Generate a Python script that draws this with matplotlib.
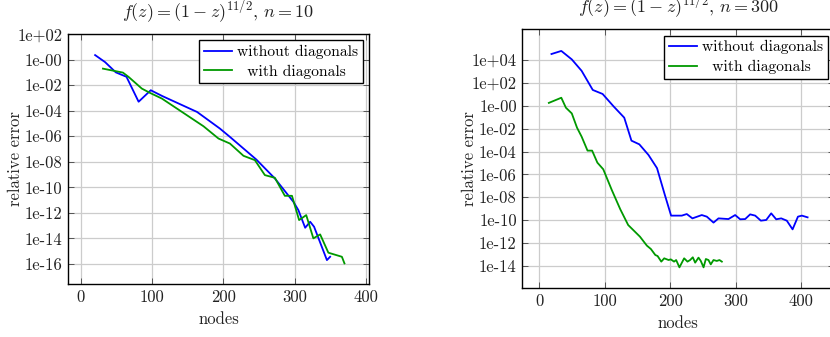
import matplotlib
matplotlib.use("Agg")
from matplotlib import pyplot as plt
import numpy as np

plt.rcParams['font.family'] = ['cmr10', 'DejaVu Serif']
plt.rcParams['mathtext.fontset'] = 'cm'
plt.rcParams['axes.unicode_minus'] = False
plt.rcParams['axes.formatter.use_mathtext'] = True
fontsize = 12
plt.rcParams['font.size'] = fontsize

# ---- left panel: n = 10 (values are log10 of the relative error)
nodes_l_wo = [20, 34, 49, 64, 81, 98, 114, 163, 195, 209, 246, 272, 298, 305, 314.5, 321.5, 327, 345, 349.5]
log_l_wo = [0.35, -0.2, -1.0, -1.35, -3.3, -2.4, -2.85, -4.1, -5.4, -6.05, -7.82, -9.3, -11.13, -11.78, -13.16, -12.69, -13.08, -15.69, -15.43]

nodes_l_w = [31, 59, 67, 85.5, 97, 113.6, 172, 193, 209, 228, 244, 258, 272, 286, 296, 306, 316, 326, 335.5, 347, 366, 369.6]
log_l_w = [-0.71, -1.02, -1.36, -2.27, -2.61, -3.05, -5.22, -6.18, -6.57, -7.53, -7.87, -9.04, -9.25, -10.66, -10.66, -12.56, -12.17, -13.99, -13.68, -15.11, -15.43, -15.95]

# ---- right panel: n = 300
nodes_r_wo = [19, 34, 50, 65, 82, 97, 114, 130, 141, 153, 167, 180, 192, 201.5, 217.8, 225.4, 234, 248.3, 256,
              266.2, 273.8, 289, 299.2, 306.9, 314.5, 322.1, 329.8, 338.4, 346.6, 354.2, 361.8, 369.5, 378,
              386.8, 395, 401, 409.7]
log_r_wo = [4.52, 4.79, 4.05, 3.05, 1.38, 1.03, -0.07, -1.04, -3.05, -3.37, -4.3, -5.45, -7.8, -9.6, -9.6, -9.46, -9.84,
            -9.55, -9.69, -10.21, -9.84, -9.9, -9.55, -9.92, -9.9, -9.49, -9.6, -10.04, -9.98, -9.40, -9.92, -9.84,
            -10.04, -10.8, -9.69, -9.6, -9.75]

nodes_r_w = [15, 34, 41, 50, 58, 65, 74, 81, 89, 98, 111, 124, 136, 154, 164.5, 170.7, 177.4, 180.9, 186.5, 191,
             197.7, 201, 206, 209.2, 214.2, 221.4, 226.5, 230.5, 234.6, 238.2, 243.3, 246.8, 251, 254.5, 258.5,
             262, 266.2, 271.2, 275.3, 278.9]
log_r_w = [0.25, 0.7, -0.17, -0.67, -1.92, -2.7, -3.92, -3.92, -4.97, -5.55, -7.36, -9.05, -10.42, -11.44, -12.22,
           -12.52, -13.04, -13.13, -13.62, -13.33, -13.48, -13.42, -13.62, -13.48, -14.12, -13.33, -13.62, -13.48,
           -13.24, -13.71, -13.27, -13.56, -14.12, -13.39, -13.48, -13.86, -13.48, -13.56, -13.48, -13.62]

x_ticks = [0, 100, 200, 300, 400]
y_ticks_l = [2, 0, -2, -4, -6, -8, -10, -12, -14, -16]
y_ticks_r = [4, 2, 0, -2, -4, -6, -8, -10, -12, -14]
names = ["without diagonals", "  with diagonals"]
colors = ["#0000ff", "#009900"]


def tick_label(e):
    if e > 0:
        return "1e+%02d" % e
    return "1e-%02d" % abs(e)


W, H = 830.0, 337.0
fig = plt.figure(figsize=(8.3, 3.37), dpi=100)
# axes boxes in pixels: left, top, right, bottom ; title centre height
box_l = (68, 34, 369, 284)
box_r = (522.3, 29.3, 834, 288.3)
ax_l = fig.add_axes([box_l[0] / W, 1 - box_l[3] / H, (box_l[2] - box_l[0]) / W, (box_l[3] - box_l[1]) / H])
ax_r = fig.add_axes([box_r[0] / W, 1 - box_r[3] / H, (box_r[2] - box_r[0]) / W, (box_r[3] - box_r[1]) / H])

panels = [
    (ax_l, box_l, 12.0, nodes_l_wo, log_l_wo, nodes_l_w, log_l_w, y_ticks_l, (-18, 404), (-17.56, 2.0), "10"),
    (ax_r, box_r, 7.5, nodes_r_wo, log_r_wo, nodes_r_w, log_r_w, y_ticks_r, (-25.5, 450), (-15.95, 6.68), "300"),
]

for ax, box, ty, xa, ya, xb, yb, yt, xl, yl, n in panels:
    ax.plot(xa, 10.0 ** np.array(ya), color=colors[0], linewidth=1.3, label=names[0])
    ax.plot(xb, 10.0 ** np.array(yb), color=colors[1], linewidth=1.3, label=names[1])
    ax.set_yscale('log')
    ax.set_xlim(*xl)
    ax.set_ylim(10.0 ** yl[0], 10.0 ** yl[1])
    ax.set_xticks(x_ticks)
    ax.set_xticklabels([str(t) for t in x_ticks])
    ax.set_yticks([10.0 ** e for e in yt])
    ax.set_yticklabels([tick_label(e) for e in yt])
    ax.yaxis.set_minor_locator(matplotlib.ticker.NullLocator())
    ax.grid(True, color='#cccccc', linewidth=0.9)
    ax.set_axisbelow(True)
    ax.tick_params(direction='in', length=4, width=0.7, color='#555555', top=True, right=True,
                   labelsize=fontsize, pad=4, labelcolor='#222222')
    for sp in ax.spines.values():
        sp.set_linewidth(1.0)
    ax.set_xlabel("nodes", fontsize=fontsize, labelpad=5, color='#222222')
    ax.set_ylabel("relative error", fontsize=fontsize, color='#222222')
    ax.yaxis.set_label_coords(-45.0 / (box[2] - box[0]), 0.5)
    fig.text((box[0] + box[2]) / 2 / W, 1 - ty / H,
             r"$f(z) = (1-z)^{11/2}$, $n = %s$" % n, fontsize=13, ha='center', va='center',
             color='#222222')
    leg = ax.legend(loc='upper right', fancybox=False, edgecolor='black', framealpha=1.0,
                    handlelength=1.8, handletextpad=0.35, borderpad=0.3, labelspacing=0.35,
                    borderaxespad=0.4, fontsize=11.2)
    leg.get_frame().set_linewidth(1.0)

plt.savefig("out.png", dpi=100)
